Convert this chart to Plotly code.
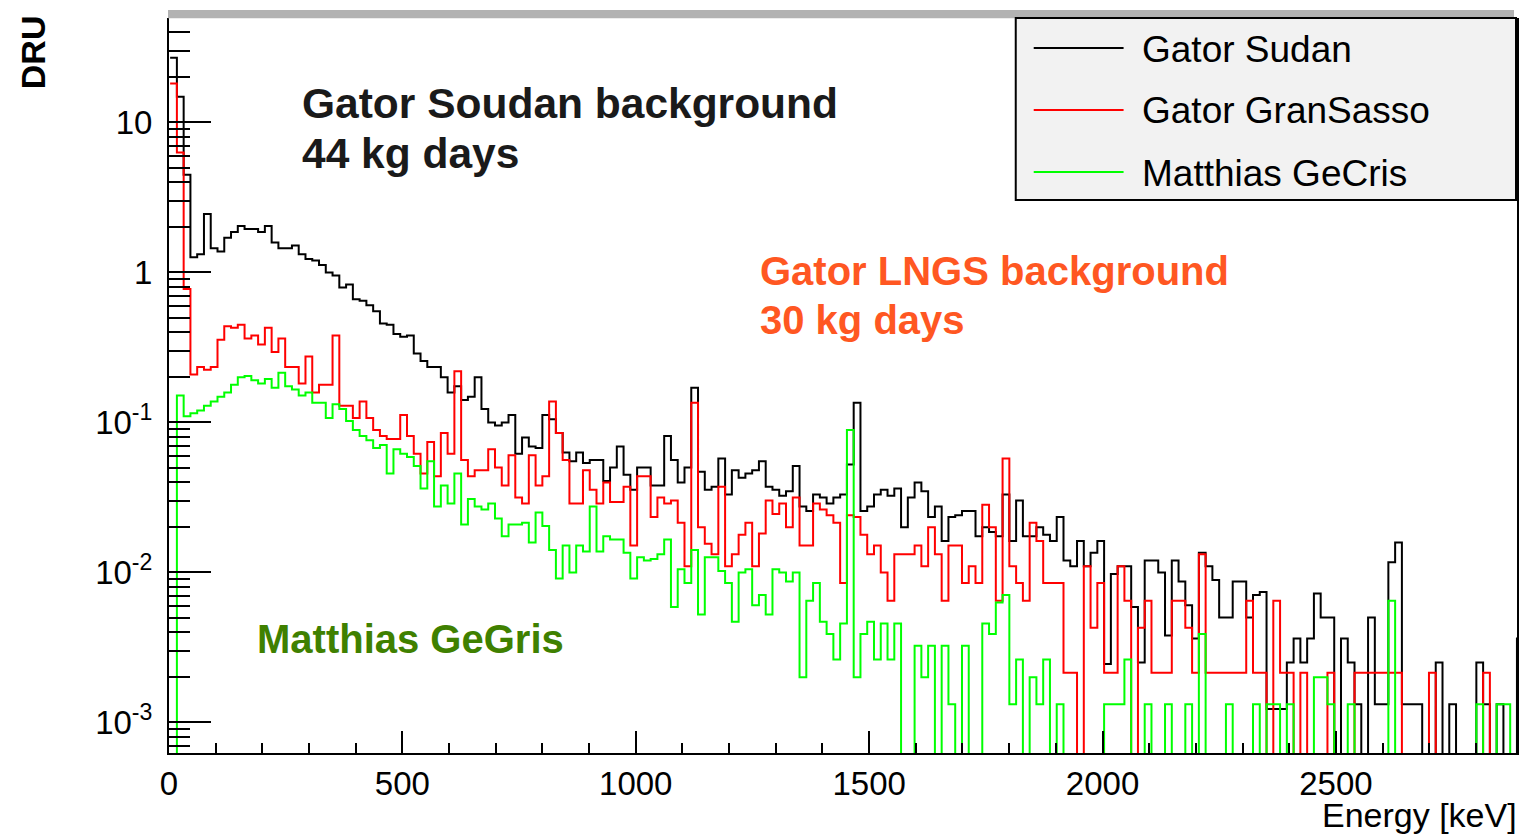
import numpy as np
import plotly.graph_objects as go

# ---------------- data (DRU per 14.5 keV bin) ----------------
bin_first_edge_kev = 2.4
bin_width_kev = 14.5

gator_sudan = [
    27, 14.8, 4.47, 1.26, 1.32, 2.45, 1.45, 1.38, 1.70, 1.86,
    2.04, 1.95, 1.95, 1.86, 2.04, 1.58, 1.45, 1.45, 1.51, 1.32,
    1.23, 1.20, 1.12, 1.00, 0.955, 0.794, 0.832, 0.661, 0.646, 0.603,
    0.550, 0.457, 0.447, 0.389, 0.372, 0.380, 0.288, 0.257, 0.234, 0.234,
    0.200, 0.158, 0.174, 0.141, 0.148, 0.200, 0.123, 0.100, 0.0955, 0.100,
    0.112, 0.0617, 0.0794, 0.0692, 0.0676, 0.112, 0.105, 0.0851, 0.0631, 0.0550,
    0.0631, 0.0537, 0.0562, 0.0562, 0.0407, 0.0501, 0.0692, 0.0447, 0.0355, 0.0501,
    0.0501, 0.0380, 0.0380, 0.0813, 0.0562, 0.0398, 0.0501, 0.170, 0.0468, 0.0355,
    0.0372, 0.0575, 0.0331, 0.0479, 0.0427, 0.0457, 0.0479, 0.0550, 0.0372, 0.0355,
    0.0324, 0.0347, 0.0513, 0.0275, 0.0257, 0.0331, 0.0316, 0.0288, 0.0316, 0.0331,
    0.0525, 0.135, 0.0257, 0.0275, 0.0331, 0.0355, 0.0324, 0.0363, 0.0200, 0.0316,
    0.0398, 0.0347, 0.0234, 0.0275, 0.0162, 0.0234, 0.0240, 0.0257, 0.0257, 0.0174,
    0.0200, 0.0186, 0.0174, 0.0331, 0.0162, 0.0302, 0.0174, 0.0174, 0.0200, 0.0178,
    0.0162, 0.0234, 0.0120, 0.0110, 0.0162, 0.0110, 0.0135, 0.0162, 0.00245, 0.00977,
    0.0110, 0.0110, 0.00589, 0.00251, 0.0120, 0.0120, 0.0100, 0.00380, 0.0120, 0.00871,
    0.00603, 0.00363, 0.0135, 0.0110, 0.00891, 0.00501, 0.00501, 0.00871, 0.00871, 0.00501,
    0.00708, 0.00741, 0.00123, 0.00123, 0.00123, 0.00251, 0.00363, 0.00251, 0.00363, 0.00724,
    0.00501, 0.00501, 0, 0.00363, 0.00251, 0.00132, 0, 0.00501, 0.00132, 0.00132,
    0.0117, 0.0158, 0.00132, 0.00132, 0.00132, 0, 0, 0.00251, 0, 0.00132,
    0, 0, 0, 0.00251, 0.00132, 0, 0.00132, 0, 0, 0.00363,
]

gator_gransasso = [
    18.2, 6.31, 0.776, 0.209, 0.234, 0.224, 0.234, 0.355, 0.437, 0.427,
    0.447, 0.363, 0.380, 0.331, 0.427, 0.295, 0.363, 0.234, 0.234, 0.182,
    0.275, 0.158, 0.178, 0.178, 0.380, 0.129, 0.129, 0.107, 0.138, 0.107,
    0.0891, 0.0813, 0.0776, 0.0776, 0.112, 0.0813, 0.0617, 0.0457, 0.0741, 0.0437,
    0.0851, 0.0617, 0.219, 0.0562, 0.0437, 0.0479, 0.0479, 0.0661, 0.0501, 0.0380,
    0.0603, 0.0316, 0.0288, 0.0603, 0.0380, 0.0437, 0.138, 0.0851, 0.0562, 0.0288,
    0.0288, 0.0479, 0.0355, 0.0288, 0.0398, 0.0295, 0.0295, 0.0372, 0.0151, 0.0437,
    0.0437, 0.0234, 0.0316, 0.0288, 0.0302, 0.0214, 0.0110, 0.135, 0.0200, 0.0155,
    0.0132, 0.0372, 0.0110, 0.0132, 0.0178, 0.0214, 0.0110, 0.0182, 0.0302, 0.0245,
    0.0288, 0.0200, 0.0316, 0.0151, 0.0151, 0.0288, 0.0263, 0.0240, 0.0214, 0.00851,
    0.0240, 0.0234, 0.0178, 0.0132, 0.0151, 0.0100, 0.00646, 0.0132, 0.0132, 0.0132,
    0.0151, 0.0110, 0.0200, 0.0132, 0.00646, 0.0151, 0.0151, 0.00851, 0.0110, 0.00851,
    0.0282, 0.0200, 0.00646, 0.0575, 0.0110, 0.00851, 0.00646, 0.0214, 0.0162, 0.00851,
    0.00851, 0.00851, 0.00214, 0.00214, 0, 0.0110, 0.00427, 0.00851, 0.00214, 0.00214,
    0.0110, 0.00646, 0, 0.00427, 0.00646, 0.00214, 0.00214, 0.00214, 0.00646, 0.00646,
    0.00427, 0.00214, 0.0132, 0.00214, 0.00214, 0.00214, 0.00214, 0.00214, 0.00214, 0.00646,
    0.00214, 0.00214, 0, 0.00646, 0.00214, 0.00214, 0, 0.00214, 0, 0,
    0, 0.00214, 0, 0, 0, 0.00214, 0.00214, 0.00214, 0.00214, 0.00214,
    0.00214, 0.00214, 0, 0, 0, 0, 0.00214, 0, 0, 0,
    0, 0, 0, 0, 0.00214, 0, 0, 0, 0, 0,
]

matthias_gecris = [
    0, 0.151, 0.110, 0.115, 0.120, 0.129, 0.138, 0.148, 0.158, 0.178,
    0.200, 0.204, 0.191, 0.182, 0.195, 0.170, 0.214, 0.174, 0.166, 0.151,
    0.158, 0.135, 0.135, 0.107, 0.132, 0.123, 0.102, 0.0891, 0.0813, 0.0759,
    0.0676, 0.0708, 0.0457, 0.0661, 0.0617, 0.0589, 0.0513, 0.0363, 0.0550, 0.0275,
    0.0380, 0.0288, 0.0457, 0.0209, 0.0309, 0.0275, 0.0263, 0.0288, 0.0229, 0.0174,
    0.0209, 0.0209, 0.0214, 0.0158, 0.0251, 0.0204, 0.0141, 0.00912, 0.0151, 0.0100,
    0.0151, 0.0138, 0.0275, 0.0138, 0.0174, 0.0166, 0.0166, 0.0135, 0.00912, 0.0126,
    0.0120, 0.0123, 0.0132, 0.0166, 0.00589, 0.0105, 0.00851, 0.0141, 0.00525, 0.0126,
    0.0126, 0.0102, 0.00851, 0.00468, 0.0100, 0.0105, 0.00603, 0.00708, 0.00525, 0.0105,
    0.0100, 0.00871, 0.0100, 0.00200, 0.00646, 0.00851, 0.00468, 0.00389, 0.00263, 0.00457,
    0.0891, 0.00200, 0.00389, 0.00468, 0.00263, 0.00457, 0.00263, 0.00457, 0, 0,
    0.00324, 0.00200, 0.00324, 0, 0.00324, 0.00132, 0, 0.00324, 0, 0,
    0.00457, 0.00389, 0.00631, 0.00708, 0.00132, 0.00263, 0, 0.00200, 0.00132, 0.00263,
    0, 0.00132, 0, 0, 0, 0, 0, 0, 0.00132, 0.00132,
    0.00132, 0.00263, 0, 0, 0.00132, 0, 0, 0.00132, 0, 0,
    0.00132, 0, 0.00389, 0, 0, 0, 0.00132, 0, 0, 0,
    0.00132, 0, 0.00132, 0.00132, 0, 0.00132, 0, 0, 0, 0.00200,
    0.00200, 0.00132, 0, 0, 0.00132, 0, 0, 0, 0, 0,
    0.00646, 0, 0, 0, 0, 0, 0, 0, 0, 0,
    0, 0, 0, 0.00132, 0, 0, 0.00132, 0.00132, 0, 0,
]

series_names = ["Gator Sudan", "Gator GranSasso", "Matthias GeCris"]
series_colors = ["#000000", "#ff0000", "#00ff00"]

x_tick_values = [0, 500, 1000, 1500, 2000, 2500]
x_tick_labels = ["0", "500", "1000", "1500", "2000", "2500"]
y_tick_values = [0.001, 0.01, 0.1, 1, 10]
y_tick_labels = ["10<sup>-3</sup>", "10<sup>-2</sup>", "10<sup>-1</sup>", "1", "10"]

# ---------------- layout geometry (pixels of the 1528x834 page) ----------------
PAGE_W, PAGE_H = 1528, 834
OFF = 8  # default body margin of the html page
W, H = PAGE_W - 2 * OFF, PAGE_H - OFF
L_PX, R_PX, T_PX, B_PX = 169, 1519, 18, 753
X_RANGE = [0, 2888]
Y_RANGE = [-3.204, 1.696]
FONT = "Liberation Sans, Arial, sans-serif"
ZERO_FLOOR = 1e-5  # empty bins are drawn at the bottom of the frame (clipped)


def px(x):
    return (x - L_PX) / (R_PX - L_PX)


def py(y):
    return (B_PX - y) / (B_PX - T_PX)


def step_xy(values):
    n = len(values)
    edges = bin_first_edge_kev + bin_width_kev * np.arange(n + 1)
    vals = np.array([v if v > 0 else ZERO_FLOOR for v in values], dtype=float)
    vals = np.append(vals, vals[-1])
    return edges, vals


fig = go.Figure()
for name, data, color in zip(series_names,
                             [gator_sudan, gator_gransasso, matthias_gecris],
                             series_colors):
    xs, ys = step_xy(data)
    fig.add_trace(go.Scatter(
        x=xs, y=ys, mode="lines", name=name,
        line=dict(color=color, width=2, shape="hv"),
        showlegend=False, hoverinfo="skip",
    ))

minor_y = [k * 10.0 ** d for d in range(-4, 2) for k in range(2, 10)]
minor_x = [v for v in range(100, 2901, 100) if v % 500 != 0]

fig.update_layout(
    width=W, height=H,
    margin=dict(l=L_PX - OFF, r=(OFF + W) - R_PX, t=T_PX - OFF, b=(OFF + H) - B_PX, pad=0),
    paper_bgcolor="white", plot_bgcolor="white",
    font=dict(family=FONT, color="black"),
    showlegend=False,
    xaxis=dict(
        range=X_RANGE, showgrid=False, zeroline=False,
        showline=True, linecolor="black", linewidth=2, mirror=False,
        ticks="inside", ticklen=22, tickwidth=2, tickcolor="black",
        tickmode="array", tickvals=x_tick_values, ticktext=x_tick_labels,
        tickfont=dict(size=33, family=FONT, color="black"),
        minor=dict(ticks="inside", ticklen=10, tickwidth=2, tickcolor="black",
                   tickmode="array", tickvals=minor_x, showgrid=False),
    ),
    yaxis=dict(
        type="log", range=Y_RANGE, showgrid=False, zeroline=False,
        showline=True, linecolor="black", linewidth=2, mirror=True,
        ticks="inside", ticklen=42, tickwidth=2, tickcolor="black",
        tickmode="array", tickvals=y_tick_values, ticktext=y_tick_labels,
        tickfont=dict(size=33, family=FONT, color="black"),
        ticklabelstandoff=8,
        minor=dict(ticks="inside", ticklen=21, tickwidth=2, tickcolor="black",
                   tickmode="array", tickvals=minor_y, showgrid=False),
    ),
)

shapes = []
# grey bar along the top of the frame
shapes.append(dict(type="rect", xref="paper", yref="paper",
                   x0=px(168), x1=px(1516), y0=py(18.3), y1=py(10),
                   fillcolor="#b2b2b2", line=dict(width=0), layer="above"))
# legend box
shapes.append(dict(type="rect", xref="paper", yref="paper",
                   x0=px(1017), x1=px(1518), y0=py(200), y1=py(18),
                   fillcolor="#f2f2f2", line=dict(color="black", width=2), layer="above"))
legend_rows_y = [48, 110, 172]
for yrow, color in zip(legend_rows_y, series_colors):
    shapes.append(dict(type="line", xref="paper", yref="paper",
                       x0=px(1035), x1=px(1125), y0=py(yrow), y1=py(yrow),
                       line=dict(color=color, width=2), layer="above"))
fig.update_layout(shapes=shapes)

annotations = []
for yrow, name in zip(legend_rows_y, series_names):
    annotations.append(dict(xref="paper", yref="paper", x=px(1141), y=py(yrow + 1),
                            xanchor="left", yanchor="middle", showarrow=False,
                            text=name, font=dict(size=37, family=FONT, color="black")))

text_blocks = [
    ("<b>Gator Soudan background</b>", 300, 103, 42.5, "#1a1a1a"),
    ("<b>44 kg days</b>", 300, 154, 42.5, "#1a1a1a"),
    ("<b>Gator LNGS background</b>", 759, 271, 40, "#ff5722"),
    ("<b>30 kg days</b>", 759, 320, 40, "#ff5722"),
    ("<b>Matthias GeGris</b>", 255, 639, 40, "#3f8000"),
]
for text, x0, yc, size, color in text_blocks:
    annotations.append(dict(xref="paper", yref="paper", x=px(x0), y=py(yc),
                            xanchor="left", yanchor="middle", showarrow=False,
                            text=text, font=dict(size=size, family=FONT, color=color)))

# axis titles
annotations.append(dict(xref="paper", yref="paper", x=px(1521), y=py(815),
                        xanchor="right", yanchor="middle", showarrow=False,
                        text="Energy [keV]", font=dict(size=34, family=FONT, color="black")))
annotations.append(dict(xref="paper", yref="paper", x=px(33), y=py(52),
                        xanchor="center", yanchor="middle", showarrow=False, textangle=-90,
                        text="<b>DRU</b>", font=dict(size=34, family=FONT, color="black")))
fig.update_layout(annotations=annotations)

fig.write_html("out.html")
